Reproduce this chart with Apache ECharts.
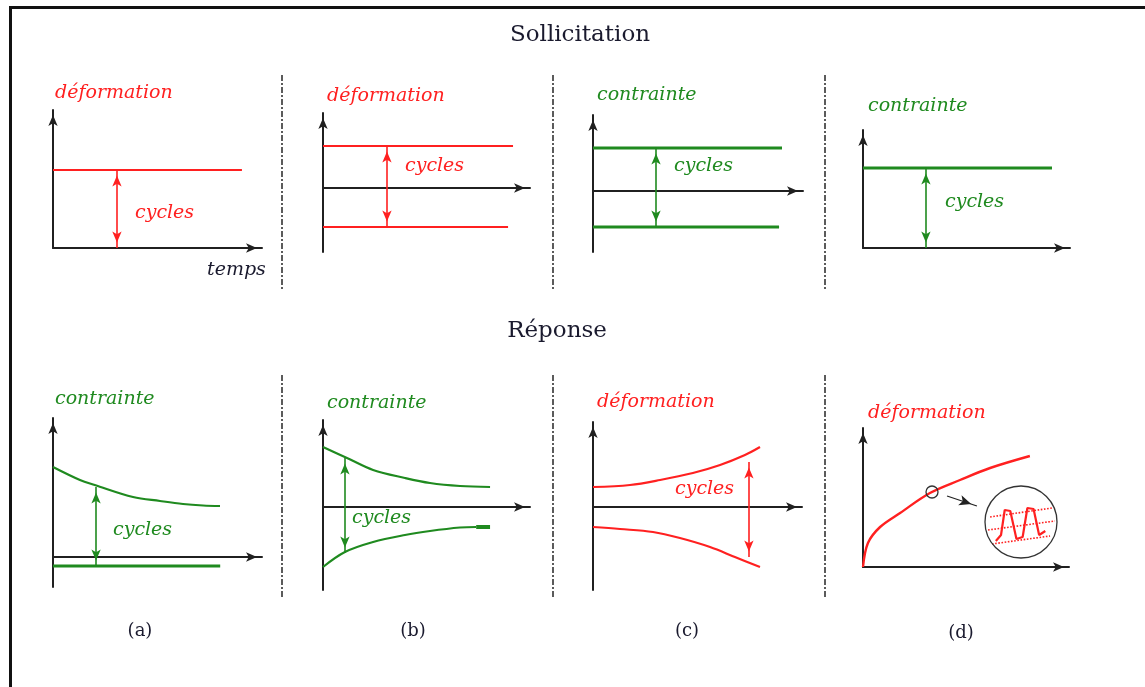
<!DOCTYPE html>
<html><head><meta charset="utf-8">
<script src="https://cdn.jsdelivr.net/npm/echarts@6/dist/echarts.min.js"></script>
<style>html,body{margin:0;padding:0;background:#fff}#c{width:1145px;height:687px}</style>
</head><body><div id="c"></div>
<script>
// ---------- data ----------
// Sollicitation row: horizontal levels [x, y] and cycle arrows [x, yFrom, yTo]
const s1Level = [[0, 5.65], [9.04, 5.65]];
const s1Cycle = [3.06, 0, 5.65];
const s2Upper = [[0, 4.2], [9.18, 4.2]];
const s2Lower = [[0, -3.9], [8.94, -3.9]];
const s2Cycle = [3.09, -3.9, 4.2];
const s3Upper = [[0, 4.3], [9.0, 4.3]];
const s3Lower = [[0, -3.6], [8.86, -3.6]];
const s3Cycle = [3.0, -3.6, 4.3];
const s4Level = [[0, 6.78], [9.13, 6.78]];
const s4Cycle = [3.04, 0, 6.78];

// Réponse row
const rAUpper = [[0, 9.0], [1.29, 7.7], [2.0, 7.2], [3.83, 6.0], [5.12, 5.6], [6.22, 5.3], [7.18, 5.15], [7.99, 5.1]];
const rALower = [[0, -0.9], [8.0, -0.9]];
const rACycle = [2.06, -0.9, 7.0];
const rBUpper = [[0, 6.0], [1.16, 4.9], [2.42, 3.7], [3.96, 2.9], [5.17, 2.4], [6.62, 2.1], [8.07, 2.0]];
const rBLower = [[0, -6.0], [1.06, -4.5], [2.42, -3.5], [3.96, -2.8], [5.17, -2.4], [6.62, -2.05], [7.4, -2.0]];
const rBLowerEnd = [[7.4, -2.0], [8.07, -2.0]];
const rBCycle = [1.06, -4.6, 4.9];
const rCUpper = [[0, 2.0], [1.77, 2.2], [3.21, 2.7], [4.78, 3.4], [6.08, 4.2], [7.27, 5.2], [7.99, 6.0]];
const rCLower = [[0, -2.0], [1.29, -2.2], [2.87, -2.5], [4.16, -3.1], [5.6, -4.0], [6.79, -5.0], [7.99, -6.0]];
const rCCycle = [7.46, -5.0, 4.5];
const rDCurve = [[0, 0], [0.24, 2.4], [0.83, 4.0], [1.8, 5.4], [3.25, 7.4], [4.71, 8.7], [6.17, 9.9], [8.1, 11.1]];
const rDSpot = [3.35, 7.5];
const rDPointer = [[4.08, 7.1], [5.53, 6.1]];
const rDLens = [7.67, 4.5];
const rDWave = [[6.45, 2.6], [6.7, 3.2], [6.88, 5.7], [7.15, 5.6], [7.45, 2.8], [7.75, 3.0], [7.98, 5.9], [8.28, 5.8], [8.55, 3.2], [8.85, 3.6]];
const rDBand1 = [[6.17, 5.0], [9.17, 5.9]];
const rDBand2 = [[6.07, 3.7], [9.32, 4.6]];
const rDBand3 = [[6.26, 2.3], [9.08, 3.1]];

// axis ranges per panel [xMin, xMax, yMin, yMax]
const ranges = [
  [0, 10, 0, 10], [0, 10, -6.4, 7.5], [0, 10, -6.1, 7.6], [0, 10, 0, 10],
  [0, 10, -3.0, 13.9], [0, 10, -8.3, 8.7], [0, 10, -8.3, 8.5], [0, 10, 0, 13.9]
];

// ---------- layout / style ----------
const RED = '#ff2020', GREEN = '#1f8a1f', AXIS = '#202020', INK = '#1a1a2e';
const rects = [
  [53, 110, 209, 138], [323, 113, 207, 139], [593, 115, 210, 137], [863, 130, 207, 118],
  [53, 418, 209, 169], [323, 420, 207, 170], [593, 422, 209, 168], [863, 428, 206, 139]
];

const grid = rects.map(r => ({ left: r[0], top: r[1], width: r[2], height: r[3] }));
const axisLine = {
  show: true, onZero: true, symbol: ['none', 'arrow'], symbolSize: [7, 11], symbolOffset: [0, -5],
  lineStyle: { color: AXIS, width: 2 }
};
const xAxis = ranges.map((r, i) => ({
  gridIndex: i, type: 'value', min: r[0], max: r[1], axisLine,
  axisTick: { show: false }, axisLabel: { show: false }, splitLine: { show: false }
}));
const yAxis = ranges.map((r, i) => ({
  gridIndex: i, type: 'value', min: r[2], max: r[3], axisLine,
  axisTick: { show: false }, axisLabel: { show: false }, splitLine: { show: false }
}));

function line(i, data, color, width, smooth, type) {
  return {
    type: 'line', xAxisIndex: i, yAxisIndex: i, data, symbol: 'none', smooth: smooth || false,
    lineStyle: { color, width, type: type || 'solid' }, silent: true, animation: false, z: 3
  };
}
function end(coord, size, offset) {
  return { coord, symbol: 'arrow', symbolSize: size, symbolOffset: offset };
}
function withCycle(s, c, color) {
  s.markLine = {
    silent: true, animation: false, symbol: ['arrow', 'arrow'], symbolSize: 10,
    label: { show: false }, emphasis: { disabled: true },
    lineStyle: { color, width: 1.6, type: 'solid' },
    data: [[end([c[0], c[1]], [7, 11], [0, 5.5]), end([c[0], c[2]], [7, 11], [0, 5.5])]]
  };
  return s;
}

const series = [
  withCycle(line(0, s1Level, RED, 2), s1Cycle, RED),
  withCycle(line(1, s2Upper, RED, 2), s2Cycle, RED),
  line(1, s2Lower, RED, 2),
  withCycle(line(2, s3Upper, GREEN, 3), s3Cycle, GREEN),
  line(2, s3Lower, GREEN, 3),
  withCycle(line(3, s4Level, GREEN, 3), s4Cycle, GREEN),
  withCycle(line(4, rAUpper, GREEN, 2.2, 0.35), rACycle, GREEN),
  line(4, rALower, GREEN, 3),
  withCycle(line(5, rBUpper, GREEN, 2.2, 0.35), rBCycle, GREEN),
  line(5, rBLower, GREEN, 2.2, 0.35),
  line(5, rBLowerEnd, GREEN, 4),
  withCycle(line(6, rCUpper, RED, 2.2, 0.35), rCCycle, RED),
  line(6, rCLower, RED, 2.2, 0.35),
  (function () {
    const s = line(7, rDCurve, RED, 2.4, 0.35);
    s.markPoint = {
      silent: true, animation: false, label: { show: false },
      itemStyle: { color: 'rgba(0,0,0,0)', borderColor: '#333', borderWidth: 1.3 },
      data: [{ coord: rDSpot, symbol: 'circle', symbolSize: 12 }, { coord: rDLens, symbol: 'circle', symbolSize: 72 }]
    };
    s.markLine = {
      silent: true, animation: false, symbol: ['none', 'arrow'], symbolSize: 10,
      label: { show: false }, lineStyle: { color: '#222', width: 1.3, type: 'solid' },
      data: [[{ coord: rDPointer[0], symbol: 'none' }, end(rDPointer[1], [8, 12], [0, 6])]]
    };
    return s;
  })(),
  line(7, rDWave, RED, 2.2),
  line(7, rDBand1, RED, 1.6, false, 'dotted'),
  line(7, rDBand2, RED, 1.6, false, 'dotted'),
  line(7, rDBand3, RED, 1.6, false, 'dotted')
];

// ---------- decorations & texts ----------
const sepX = [282, 553, 825];
const rowsY = [[75, 290], [375, 597]];
const graphic = [
  { type: 'line', shape: { x1: 9, y1: 7.5, x2: 1145, y2: 7.5 }, style: { stroke: '#111', lineWidth: 3 } },
  { type: 'line', shape: { x1: 10.5, y1: 6, x2: 10.5, y2: 687 }, style: { stroke: '#111', lineWidth: 3 } }
];
sepX.forEach(x => rowsY.forEach(r => graphic.push({
  type: 'line', shape: { x1: x, y1: r[0], x2: x, y2: r[1] },
  style: { stroke: '#333', lineWidth: 1.6, lineDash: [6, 2, 2, 2] }
})));
const LAB = 'italic 19px "DejaVu Serif"';
const texts = [
  ['Sollicitation', 580, 35, '23px "DejaVu Serif"', INK, 'center'],
  ['Réponse', 557, 331, '23px "DejaVu Serif"', INK, 'center'],
  ['déformation', 55, 93, LAB, RED, 'left'],
  ['déformation', 327, 96, LAB, RED, 'left'],
  ['contrainte', 597, 95, LAB, GREEN, 'left'],
  ['contrainte', 868, 106, LAB, GREEN, 'left'],
  ['cycles', 135, 213, LAB, RED, 'left'],
  ['cycles', 405, 166, LAB, RED, 'left'],
  ['cycles', 674, 166, LAB, GREEN, 'left'],
  ['cycles', 945, 202, LAB, GREEN, 'left'],
  ['temps', 207, 270, LAB, INK, 'left'],
  ['contrainte', 55, 399, LAB, GREEN, 'left'],
  ['contrainte', 327, 403, LAB, GREEN, 'left'],
  ['déformation', 597, 402, LAB, RED, 'left'],
  ['déformation', 868, 413, LAB, RED, 'left'],
  ['cycles', 113, 530, LAB, GREEN, 'left'],
  ['cycles', 352, 518, LAB, GREEN, 'left'],
  ['cycles', 675, 489, LAB, RED, 'left'],
  ['(a)', 140, 631, '18px "DejaVu Serif"', INK, 'center'],
  ['(b)', 413, 631, '18px "DejaVu Serif"', INK, 'center'],
  ['(c)', 687, 631, '18px "DejaVu Serif"', INK, 'center'],
  ['(d)', 961, 633, '18px "DejaVu Serif"', INK, 'center']
];
texts.forEach(t => graphic.push({
  type: 'text', x: t[1], y: t[2], z: 10,
  style: { text: t[0], font: t[3], fill: t[4], align: t[5], verticalAlign: 'middle' }
}));

const chart = echarts.init(document.getElementById('c'), null, { renderer: 'canvas' });
chart.setOption({
  backgroundColor: '#ffffff', animation: false,
  grid, xAxis, yAxis, series, graphic
});
</script></body></html>
